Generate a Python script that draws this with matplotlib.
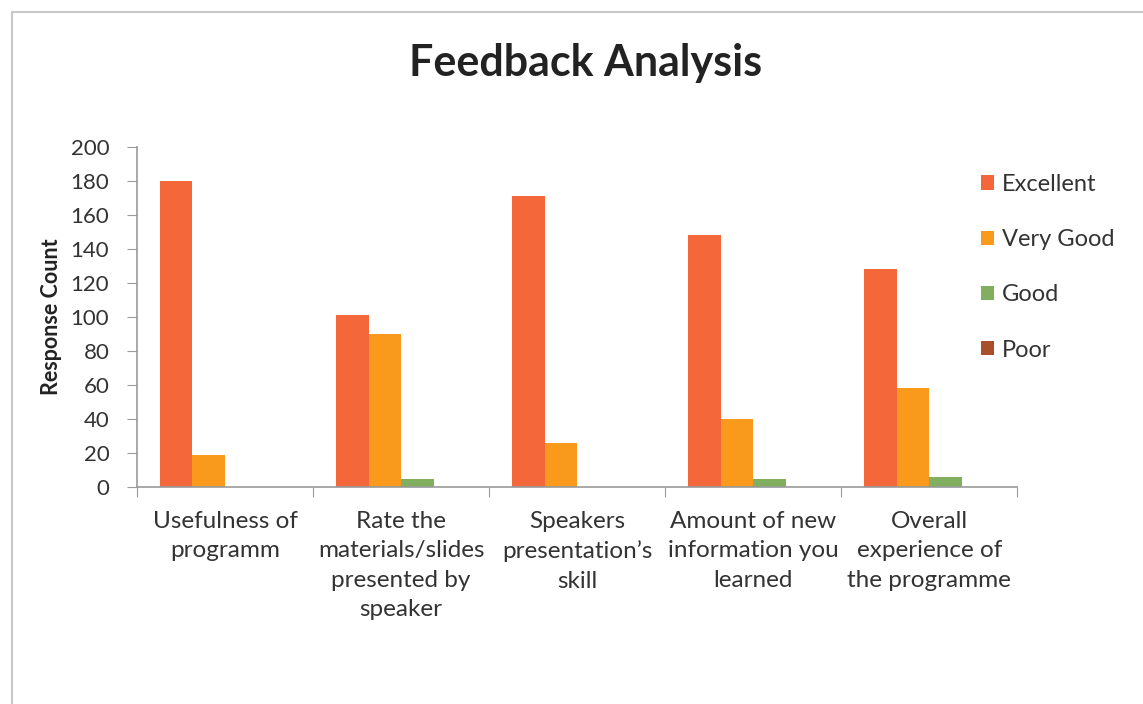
import numpy as np
import matplotlib.pyplot as plt
from matplotlib.patches import Rectangle

plt.rcParams['font.family'] = ['Lato', 'DejaVu Sans']

questions = ['Usefulness of\nprogramm',
             'Rate the\nmaterials/slides\npresented by\nspeaker',
             'Speakers\npresentation\u2019s\nskill',
             'Amount of new\ninformation you\nlearned',
             'Overall\nexperience of\nthe programme']
ratings = ['Excellent', 'Very Good', 'Good', 'Poor']

excellent = [180, 101, 171, 148, 128]
very_good = [19, 90, 26, 40, 58]
good = [0, 5, 0, 5, 6]
poor = [0, 0, 0, 0, 0]

colors = ['#F4673A', '#F99A1C', '#82AE5F', '#A8502C']

fig = plt.figure(figsize=(11.43, 7.04), dpi=100)
ax = fig.add_axes([0.1199, 0.3082, 0.7700, 0.4830])

# light frame around the chart area
fig.patches.append(Rectangle((12 / 1143, -0.1), 1.2, 1 - 12 / 704 + 0.1,
                             transform=fig.transFigure, fill=False,
                             edgecolor='#c8c8c8', linewidth=1.5))

x = np.arange(len(questions))
width = 0.185
series = [excellent, very_good, good, poor]
for i, (vals, name) in enumerate(zip(series, ratings)):
    ax.bar(x + (i - 1.5) * width, vals, width, color=colors[i], label=name)

ax.set_xlim(-0.5, len(questions) - 0.5)
ax.set_ylim(0, 200)
ax.set_yticks(range(0, 201, 20))

# category labels at the centres, tick marks on the group boundaries
ax.set_xticks(np.arange(-0.5, len(questions)), labels=[''] * (len(questions) + 1))
ax.set_xticks(x, labels=questions, minor=True)
ax.tick_params(axis='x', which='major', length=7, color='#9a9a9a', direction='out')
ax.tick_params(axis='x', which='minor', length=0, pad=17, labelsize=17.5, labelcolor='#333333')
ax.tick_params(axis='y', length=7, color='#9a9a9a', pad=13, labelsize=16, labelcolor='#333333')
for lbl in ax.get_xticklabels(minor=True):
    lbl.set_linespacing(1.5)

for side in ['top', 'right']:
    ax.spines[side].set_visible(False)
for side in ['left', 'bottom']:
    ax.spines[side].set_color('#9a9a9a')
    ax.spines[side].set_linewidth(1.2)

ax.set_ylabel('Response Count', fontsize=15.5, fontweight='bold', color='#222222', labelpad=6)
fig.text(0.512, 0.91, 'Feedback Analysis', ha='center', va='center',
         fontsize=31, fontweight='bold', color='#222222')

fig.legend(loc='upper left', bbox_to_anchor=(0.858, 0.753), frameon=False,
           borderpad=0, borderaxespad=0,
           fontsize=17, labelspacing=1.45, handlelength=0.55, handleheight=0.55,
           handletextpad=0.35, labelcolor='#333333')

fig.savefig('out.png', dpi=100, facecolor='white')
